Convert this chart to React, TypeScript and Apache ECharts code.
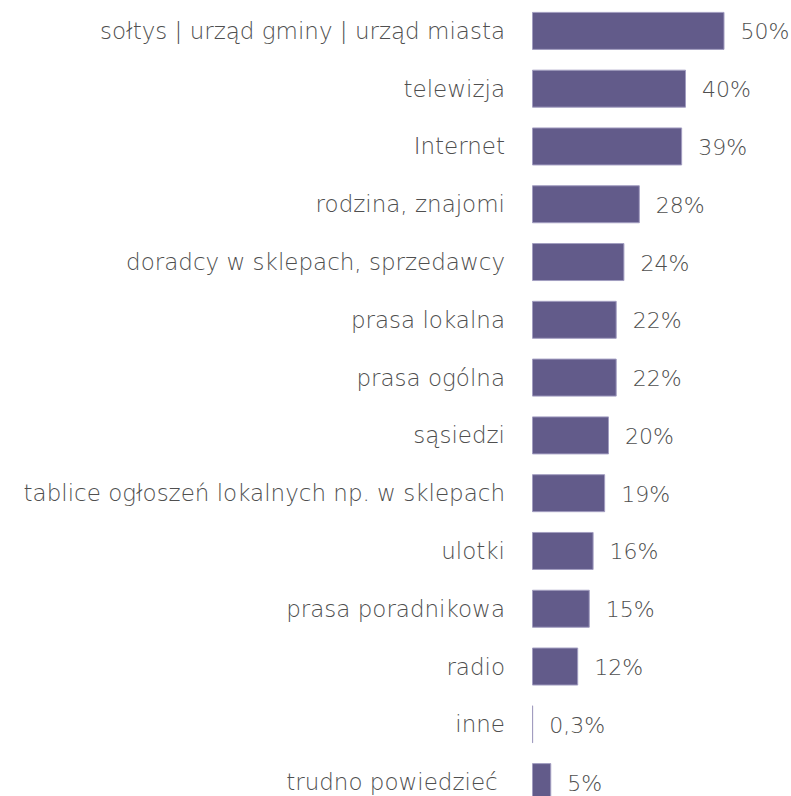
import React, { useEffect, useRef } from "react";
import * as echarts from "echarts";

const categories = [
  "sołtys | urząd gminy | urząd miasta",
  "telewizja",
  "Internet",
  "rodzina, znajomi",
  "doradcy w sklepach, sprzedawcy",
  "prasa lokalna",
  "prasa ogólna",
  "sąsiedzi",
  "tablice ogłoszeń lokalnych np. w sklepach",
  "ulotki",
  "prasa poradnikowa",
  "radio",
  "inne",
  "trudno powiedzieć\u00a0",
];

const values = [50, 40, 39, 28, 24, 22, 22, 20, 19, 16, 15, 12, 0.3, 5];

const FONT = "DejaVu Sans";
const TEXT_COLOR = "#4f4f4f";

export default function App() {
  const ref = useRef<HTMLDivElement>(null);

  useEffect(() => {
    if (!ref.current) return;
    const chart = echarts.init(ref.current, undefined, { renderer: "svg" });
    chart.setOption({
      animation: false,
      backgroundColor: "#ffffff",
      grid: { left: 532, top: 2, width: 192.5, height: 809, containLabel: false },
      xAxis: {
        type: "value",
        min: 0,
        max: 50,
        show: false,
      },
      yAxis: {
        type: "category",
        data: categories,
        inverse: true,
        axisLine: { show: false },
        axisTick: { show: false },
        splitLine: { show: false },
        axisLabel: {
          margin: 27,
          color: TEXT_COLOR,
          fontFamily: FONT,
          fontWeight: 300,
          fontSize: 23,
        },
      },
      series: [
        {
          type: "bar",
          data: values,
          barWidth: 38,
          itemStyle: {
            color: "#625b8a",
            borderColor: "#a29dc0",
            borderWidth: 1,
          },
          label: {
            show: true,
            position: "right",
            distance: 16,
            offset: [0, 1],
            color: TEXT_COLOR,
            fontFamily: FONT,
            fontWeight: 300,
            fontSize: 22,
            formatter: (p: any) => String(p.value).replace(".", ",") + "%",
          },
        },
      ],
    });
    return () => chart.dispose();
  }, []);

  return (
    <div
      style={{
        position: "fixed",
        left: 0,
        top: 0,
        width: 791,
        height: 796,
        overflow: "hidden",
        background: "#ffffff",
      }}
    >
      <div ref={ref} style={{ width: 791, height: 814 }} />
    </div>
  );
}
